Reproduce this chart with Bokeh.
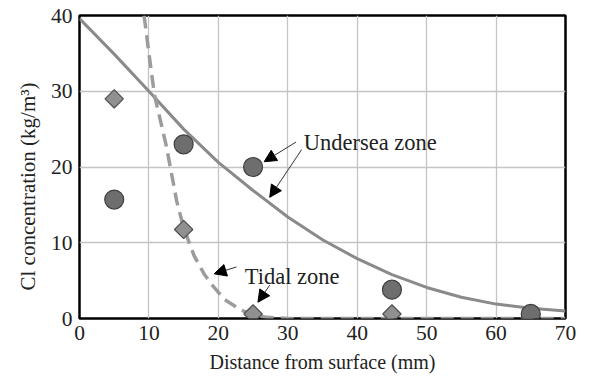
import numpy as np
from bokeh.plotting import figure
from bokeh.models import Arrow, NormalHead, Label, FixedTicker, Title
from bokeh.embed import file_html
from bokeh.resources import INLINE

# ---- data ----
undersea_x = [5, 15, 25, 45, 65]
undersea_y = [15.7, 23.0, 20.0, 3.8, 0.6]
tidal_x = [5, 15, 25, 45]
tidal_y = [29.0, 11.75, 0.6, 0.6]

undersea_curve_x = [0, 5, 10, 15, 20, 25, 30, 35, 40, 45, 50, 55, 60, 65, 70]
undersea_curve_y = [39.6, 34.9, 30.0, 25.0, 20.6, 16.9, 13.4, 10.4, 7.9, 5.8, 4.1, 2.8, 1.9, 1.35, 1.0]

tidal_curve_x = [9.3, 10.0, 10.8, 12.5, 14.0, 15.0, 16.5, 18.0, 19.3, 20.9, 23.3, 25.0, 27.0, 30.0, 70.0]
tidal_curve_y = [40.0, 35.0, 29.5, 22.8, 15.5, 12.0, 8.3, 5.8, 4.2, 2.5, 1.1, 0.5, 0.15, 0.0, 0.0]

x_ticks = [0, 10, 20, 30, 40, 50, 60, 70]
y_ticks = [0, 10, 20, 30, 40]

x_title = "Distance from surface (mm)"
y_title = "Cl concentration (kg/m³)"

labels = ["Undersea zone", "Tidal zone"]
label_x = [32.3, 23.8]
label_y = [23.3, 5.6]

# arrows: (start_x, start_y, tip_x, tip_y)
arrows = [
    (31.2, 23.3, 26.6, 20.7),
    (32.0, 22.3, 27.4, 16.0),
    (22.6, 6.8, 19.4, 5.9),
    (27.4, 4.4, 25.7, 2.15),
]

FONT = "Liberation Serif"

p = figure(width=604, height=381, x_range=(0, 70), y_range=(0, 40),
           output_backend="svg", toolbar_location=None,
           min_border_left=79, min_border_right=39, min_border_top=15, min_border_bottom=63)

p.outline_line_color = "black"
p.outline_line_width = 2.5
p.background_fill_color = "white"
p.border_fill_color = "white"

for ax in (p.xaxis, p.yaxis):
    ax.axis_line_color = None
    ax.major_tick_out = 0
    ax.major_tick_in = 0
    ax.minor_tick_out = 0
    ax.minor_tick_in = 0
    ax.major_label_text_font = FONT
    ax.major_label_text_font_size = "21.5px"
    ax.major_label_text_color = "#222222"
    ax.axis_label_text_font = FONT
    ax.axis_label_text_font_style = "normal"
    ax.axis_label_text_color = "#222222"

p.xaxis.axis_label_text_font_size = "20px"
p.xaxis.ticker = FixedTicker(ticks=x_ticks)
p.yaxis.ticker = FixedTicker(ticks=y_ticks)
p.xaxis.major_label_standoff = 7
p.yaxis.major_label_standoff = 7
p.xaxis.axis_label = x_title
p.xaxis.axis_label_standoff = 8

# y title placed as a side title so it can start a little above the frame bottom
p.add_layout(Title(text=y_title, align="left", offset=28, standoff=15,
                   text_font=FONT, text_font_size="21px", text_font_style="normal",
                   text_color="#222222"), "left")

p.grid.grid_line_color = "#c4c4c4"
p.grid.grid_line_width = 1.3

p.line(undersea_curve_x, undersea_curve_y, line_color="#8a8a8a", line_width=3)
p.line(tidal_curve_x, tidal_curve_y, line_color="#9c9c9c", line_width=3.5, line_dash="13 7")

p.scatter(undersea_x, undersea_y, marker="circle", size=19,
          fill_color="#6e6e6e", line_color="#404040", line_width=1.2)
p.scatter(tidal_x, tidal_y, marker="square", angle=np.pi / 4, size=13,
          fill_color="#909090", line_color="#505050", line_width=1.2)

for t, lx, ly in zip(labels, label_x, label_y):
    p.add_layout(Label(x=lx, y=ly, text=t, text_font=FONT, text_font_size="22.5px",
                       text_color="#222222", text_baseline="alphabetic"))

for sx, sy, tx, ty in arrows:
    p.add_layout(Arrow(x_start=sx, y_start=sy, x_end=tx, y_end=ty,
                       line_color="#333333", line_width=1,
                       end=NormalHead(size=12, fill_color="black", line_color="black", line_width=1)))

open("out.html", "w").write(file_html(p, INLINE))
